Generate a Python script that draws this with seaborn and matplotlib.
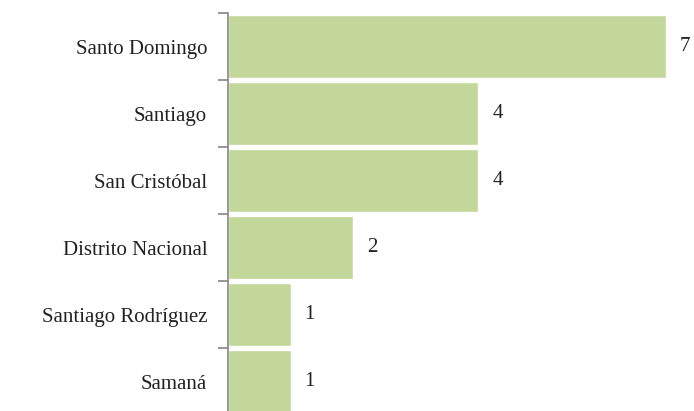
import numpy as np
import pandas as pd
import seaborn as sns
import matplotlib.pyplot as plt

provincias = ['Santo Domingo', 'Santiago', 'San Cristóbal', 'Distrito Nacional',
              'Santiago Rodríguez', 'Samaná']
valores = [7, 4, 4, 2, 1, 1]

df = pd.DataFrame({'provincia': provincias, 'valor': valores})

sns.set_style('white')
plt.rcParams['font.family'] = ['Liberation Serif', 'DejaVu Serif']

fig = plt.figure(figsize=(6.94, 4.11), dpi=100)
ax = fig.add_axes([228 / 694, 0, 466 / 694, 398 / 411])

sns.barplot(data=df, y='provincia', x='valor', orient='h', color='#c4d79b',
            saturation=1, width=0.95, ax=ax)

ax.set_xlim(0, 466 / 62.6)
ax.set_ylim(5.44, -0.5)

for i, v in enumerate(valores):
    ax.text(v + 0.22, i, str(v), va='center', ha='left', fontsize=15, color='#222222')

ax.set_xlabel('')
ax.set_ylabel('')
ax.set_xticks([])
ax.tick_params(axis='y', which='major', left=False, length=0, labelsize=15,
               pad=15, labelcolor='#222222')
# separators between categories (the last one falls below the figure)
ax.set_yticks(np.arange(-0.5, 5, 1), minor=True)
ax.tick_params(axis='y', which='minor', left=True, length=7, color='#868686', width=1.2)

for s in ['top', 'right', 'bottom']:
    ax.spines[s].set_visible(False)
ax.spines['left'].set_color('#868686')
ax.spines['left'].set_linewidth(1.2)

fig.savefig('out.png', dpi=100)
